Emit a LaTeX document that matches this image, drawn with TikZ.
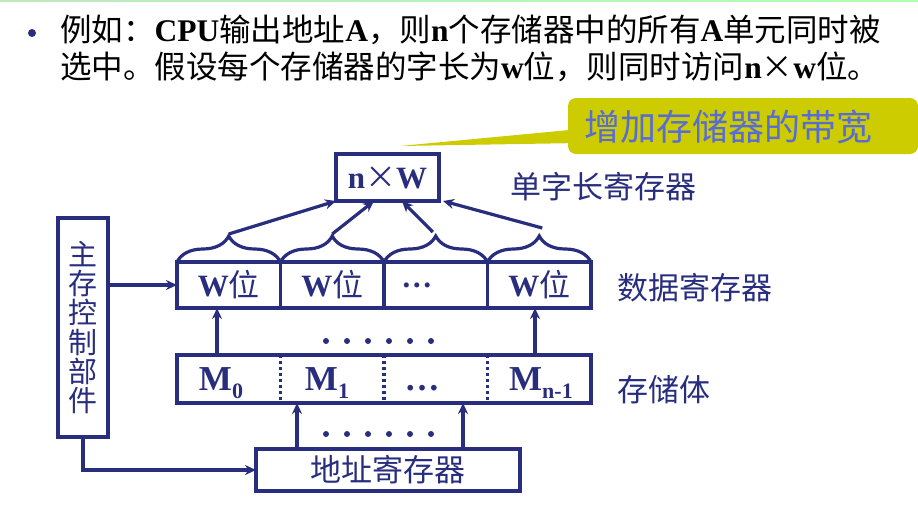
\documentclass[tikz,border=0pt]{standalone}
\usepackage{fontspec}
\setmainfont{Noto Sans CJK SC}
\newfontfamily\lat{Liberation Serif}
\usetikzlibrary{positioning, arrows.meta, decorations, decorations.pathreplacing}

\definecolor{regblue}{RGB}{40,45,125}
\definecolor{calloutbg}{RGB}{204,204,0}
\definecolor{callouttext}{RGB}{88,108,214}
\newcommand{\lb}[1]{{\lat\bfseries #1}}
\newcommand{\msub}[1]{\raisebox{-8pt}{\fontsize{22pt}{22pt}\selectfont #1}}

\tikzset{
  regline/.style={draw=regblue, line width=3.6pt},
  regbox/.style={regline, inner sep=0pt, outer sep=0pt, text=regblue, font=\fontsize{31pt}{34pt}\selectfont},
  cell/.style={minimum width=103.5pt, minimum height=46pt},
  lbl/.style={inner sep=0pt, text=regblue, font=\fontsize{31pt}{34pt}\selectfont},
  mtext/.style={inner sep=0pt, text=regblue, anchor=base, font=\lat\bfseries\fontsize{35pt}{36pt}\selectfont},
  conn/.style={draw=regblue, line width=3.2pt, ->},
  >={Stealth[length=11pt, width=10pt, inset=3.5pt]},
}

\begin{document}
\begin{tikzpicture}[x=1pt, y=-1pt, node distance=26pt]
\useasboundingbox (0,0) rectangle (918,520);
\shade[left color=gray!50!green!35, right color=green!30] (0,0) rectangle (918,1.6);

% heading
\fill[regblue] (32,33) circle (4pt);
\node[anchor=west, inner sep=0pt, font=\fontsize{31.5pt}{34pt}\selectfont] (line1) at (60,30)
  {例如：\lb{CPU}输出地址\lb{A}，则\lb{n}个存储器中的所有\lb{A}单元同时被};
\node[anchor=west, inner sep=0pt, font=\fontsize{31.5pt}{34pt}\selectfont] (line2) at ([yshift=-37pt]line1.west)
  {选中。假设每个存储器的字长为\lb{w}位，则同时访问\lb{n}×\lb{w}位。};

% callout
\fill[calloutbg] (580,129) -- (400,146) -- (580,143) -- cycle;
\fill[calloutbg, rounded corners=8pt] (568,98) rectangle (918,154);
\node[inner sep=0pt, text=callouttext, font=\fontsize{36pt}{38pt}\selectfont] (bandwidth) at (728,127) {增加存储器的带宽};

% registers
\node[regbox, minimum width=103pt, minimum height=47pt] (nxw) at (387.5,177.5) {\lb{n}×\lb{W}};
\node[regbox, minimum width=50pt, minimum height=219pt, align=center,
      font=\fontsize{29pt}{29.3pt}\selectfont] (ctrl) at (83,327.5) {主\\存\\控\\制\\部\\件};

\node[regbox, cell] (w1) at (228.75,285) {\lb{W}位};
\node[regbox, cell, right=0pt of w1] (w2) {\lb{W}位};
\node[regbox, cell, right=0pt of w2] (w3) {\lb{…}\hspace*{38pt}};
\node[regbox, cell, right=0pt of w3] (w4) {\lb{W}位};

\node[regbox, minimum width=414pt, minimum height=48pt] (mem) at (384,379) {};
\foreach \i in {1,2,3}
  \draw[regline, dash pattern=on 3pt off 3pt] ([xshift=103.5pt*\i]mem.north west) -- ([xshift=103.5pt*\i]mem.south west);
\node[mtext] (m0) at (221,390) {M\msub{0}};
\node[mtext] (m1) at (327,390) {M\msub{1}};
\node[mtext] (mdots) at (422,390) {…};
\node[mtext] (mlast) at (541,390) {M\msub{n-1}};

\node[regbox, minimum width=264pt, minimum height=42pt] (addr) at (388,470) {地址寄存器};

% labels
\node[lbl, anchor=west, right=71pt of nxw, yshift=-9pt] (wordlbl) {单字长寄存器};
\node[lbl, anchor=west, right=26pt of w4, yshift=-3pt] (datalbl) {数据寄存器};
\node[lbl, anchor=west, right=26pt of mem, yshift=-11pt] (memlbl) {存储体};

% braces and connectors
\foreach \c in {w1,w2,w3,w4}
  \draw[regline, line width=3.2pt, decorate, decoration={brace, amplitude=26pt}] (\c.north west) -- (\c.north east);
\draw[conn] ([yshift=28pt]w1.north) -- (nxw.south west);
\draw[conn] ([yshift=28pt]w2.north) -- ([xshift=38pt]nxw.south west);
\draw[conn] ([xshift=-3pt,yshift=30pt]w3.north) -- ([xshift=66pt]nxw.south west);
\draw[conn] ([xshift=3pt,yshift=34pt]w4.north) -- ([xshift=4pt]nxw.south east);

\draw[conn] (ctrl.east |- w1.west) -- (w1.west);
\draw[conn] (ctrl.south) |- (addr.west);
\draw[conn] ([xshift=-91pt]addr.north) -- ([xshift=-91pt]addr.north |- mem.south);
\draw[conn] ([xshift=75pt]addr.north) -- ([xshift=75pt]addr.north |- mem.south);
\draw[conn] ([xshift=40pt]mem.north west) -- ([xshift=40pt]mem.north west |- w1.south);
\draw[conn] ([xshift=-56pt]mem.north east) -- ([xshift=-56pt]mem.north east |- w4.south);

\foreach \i in {0,...,5} {
  \fill[regblue] (326+21*\i,341) circle (3pt);
  \fill[regblue] (326+21*\i,434) circle (3pt);
}
\end{tikzpicture}
\end{document}
